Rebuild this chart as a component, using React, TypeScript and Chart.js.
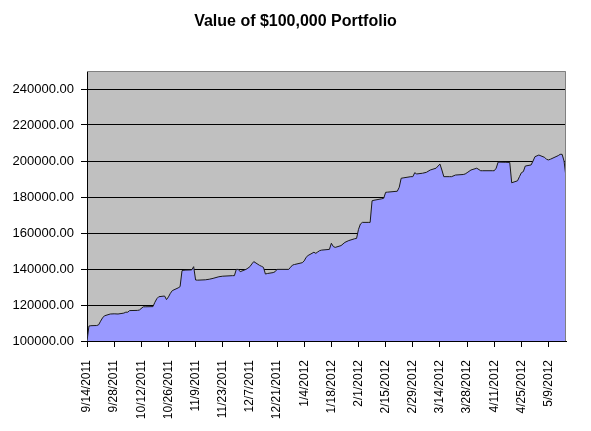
import React, { useEffect, useRef } from "react";
import { Chart, registerables } from "chart.js";

Chart.register(...registerables);

const titleText = "Value of $100,000 Portfolio";
const startDate = "9/14/2011";
const endDate = "5/18/2012";
const tickStepDays = 14;
const yMin = 100000;
const yMax = 250000;
const yTickValues = [100000, 120000, 140000, 160000, 180000, 200000, 220000, 240000];

const dates = [
  "9/14/2011", "9/15/2011", "9/16/2011", "9/19/2011", "9/20/2011", "9/21/2011", "9/22/2011", "9/23/2011",
  "9/26/2011", "9/28/2011", "9/30/2011", "10/3/2011", "10/4/2011", "10/5/2011", "10/6/2011", "10/10/2011",
  "10/11/2011", "10/13/2011", "10/14/2011", "10/18/2011", "10/19/2011", "10/20/2011", "10/21/2011", "10/24/2011",
  "10/25/2011", "10/26/2011", "10/27/2011", "10/28/2011", "10/31/2011", "11/1/2011", "11/2/2011", "11/3/2011",
  "11/4/2011", "11/7/2011", "11/8/2011", "11/9/2011", "11/10/2011", "11/14/2011", "11/16/2011", "11/18/2011",
  "11/21/2011", "11/23/2011", "11/28/2011", "11/29/2011", "11/30/2011", "12/1/2011", "12/2/2011", "12/5/2011",
  "12/6/2011", "12/7/2011", "12/8/2011", "12/9/2011", "12/12/2011", "12/13/2011", "12/14/2011", "12/15/2011",
  "12/16/2011", "12/19/2011", "12/20/2011", "12/21/2011", "12/22/2011", "12/27/2011", "12/28/2011", "12/29/2011",
  "12/30/2011", "1/3/2012", "1/4/2012", "1/5/2012", "1/6/2012", "1/9/2012", "1/10/2012", "1/11/2012",
  "1/12/2012", "1/13/2012", "1/17/2012", "1/18/2012", "1/19/2012", "1/20/2012", "1/23/2012", "1/25/2012",
  "1/27/2012", "1/30/2012", "1/31/2012", "2/1/2012", "2/2/2012", "2/3/2012", "2/6/2012", "2/7/2012",
  "2/8/2012", "2/9/2012", "2/13/2012", "2/14/2012", "2/15/2012", "2/16/2012", "2/21/2012", "2/22/2012",
  "2/23/2012", "2/24/2012", "2/28/2012", "2/29/2012", "3/1/2012", "3/2/2012", "3/5/2012", "3/7/2012",
  "3/9/2012", "3/12/2012", "3/14/2012", "3/15/2012", "3/16/2012", "3/19/2012", "3/20/2012", "3/22/2012",
  "3/26/2012", "3/27/2012", "3/28/2012", "3/30/2012", "4/2/2012", "4/4/2012", "4/5/2012", "4/10/2012",
  "4/11/2012", "4/12/2012", "4/13/2012", "4/16/2012", "4/17/2012", "4/19/2012", "4/20/2012", "4/23/2012",
  "4/24/2012", "4/25/2012", "4/26/2012", "4/27/2012", "4/30/2012", "5/1/2012", "5/2/2012", "5/4/2012",
  "5/7/2012", "5/8/2012", "5/9/2012", "5/10/2012", "5/14/2012", "5/15/2012", "5/16/2012", "5/17/2012",
  "5/18/2012",
];

const values = [
  100000, 108300, 108500, 108600, 109000, 111000, 112800, 114000,
  115000, 115100, 115000, 115500, 116000, 116000, 116900, 117000,
  117200, 119000, 119000, 119100, 121500, 123500, 124600, 125000,
  123000, 124500, 126500, 128000, 129500, 130200, 139100, 139300,
  139400, 139500, 141300, 133900, 133800, 134000, 134300, 134800,
  135700, 136000, 136300, 136300, 139800, 139800, 138500, 139800,
  140500, 141300, 142800, 144100, 142000, 141500, 140900, 137200,
  137500, 138000, 138500, 139800, 139800, 139800, 141000, 142200,
  142500, 143500, 144500, 146500, 147500, 149300, 148700, 149500,
  150200, 150500, 150900, 154300, 152500, 152000, 153000, 154800,
  155800, 156800, 157000, 162000, 165000, 165900, 165900, 165900,
  177900, 178200, 179000, 179300, 182600, 182700, 183200, 185400,
  190400, 190600, 191300, 191300, 193500, 192800, 193200, 193700,
  195000, 196000, 198300, 195000, 191300, 191300, 191300, 192200,
  192500, 192800, 193500, 195000, 196000, 194600, 194600, 194600,
  194600, 196000, 199400, 199300, 199300, 199200, 187900, 189000,
  191300, 193500, 194100, 197200, 197800, 200000, 202400, 203300,
  202000, 200900, 200600, 201000, 203000, 203700, 203700, 200000,
  191000,
];

const DAY = 86400000;
function toUTC(s: string): number {
  const [m, d, y] = s.split("/").map(Number);
  return Date.UTC(y, m - 1, d);
}
const startMs = toUTC(startDate);
function dayOffset(s: string): number {
  return Math.round((toUTC(s) - startMs) / DAY);
}
function offsetLabel(v: number): string {
  const dt = new Date(startMs + v * DAY);
  return `${dt.getUTCMonth() + 1}/${dt.getUTCDate()}/${dt.getUTCFullYear()}`;
}

const FONT = '"Liberation Sans", Arial, sans-serif';

const plotBg = {
  id: "plotBg",
  beforeDraw(chart: any) {
    const { ctx, chartArea } = chart;
    ctx.save();
    ctx.fillStyle = "#C0C0C0";
    ctx.fillRect(chartArea.left, chartArea.top, chartArea.right - chartArea.left, chartArea.bottom - chartArea.top);
    ctx.restore();
  },
  afterDraw(chart: any) {
    const { ctx, chartArea } = chart;
    ctx.save();
    ctx.strokeStyle = "#808080";
    ctx.lineWidth = 1;
    ctx.beginPath();
    ctx.moveTo(chartArea.left, chartArea.top + 0.5);
    ctx.lineTo(chartArea.right - 0.5, chartArea.top + 0.5);
    ctx.lineTo(chartArea.right - 0.5, chartArea.bottom);
    ctx.stroke();
    // chart title, centred on the whole canvas
    ctx.fillStyle = "#000";
    ctx.font = `bold 16px ${FONT}`;
    ctx.textAlign = "center";
    ctx.textBaseline = "middle";
    ctx.fillText(titleText, chart.width / 2, 22);
    ctx.restore();
  },
};

export default function App() {
  const ref = useRef<HTMLCanvasElement | null>(null);
  useEffect(() => {
    document.body.style.margin = "0";
    const points = dates.map((d, i) => ({ x: dayOffset(d), y: values[i] }));
    const chart = new Chart(ref.current as HTMLCanvasElement, {
      type: "line",
      data: {
        datasets: [
          {
            data: points,
            fill: "start",
            backgroundColor: "#9999FF",
            borderColor: "#1a1a1a",
            borderWidth: 1,
            pointRadius: 0,
            tension: 0,
          },
        ],
      },
      options: {
        animation: false,
        responsive: false,
        maintainAspectRatio: false,
        layout: { padding: { left: 0, right: 25, top: 71, bottom: 0 } },
        plugins: {
          legend: { display: false },
          tooltip: { enabled: false },
          title: { display: false },
        },
        scales: {
          x: {
            type: "linear",
            min: 0,
            max: dayOffset(endDate),
            ticks: {
              stepSize: tickStepDays,
              includeBounds: false,
              autoSkip: false,
              maxRotation: 90,
              minRotation: 90,
              padding: 13,
              color: "#000",
              font: { family: FONT, size: 12 },
              callback: (v: any) => offsetLabel(Number(v)),
            },
            grid: { drawOnChartArea: false, drawTicks: true, tickLength: 6, color: "#000" },
            border: { display: true, color: "#000", width: 1 },
            afterFit: (scale: any) => {
              scale.height = 90;
            },
          },
          y: {
            min: yMin,
            max: yMax,
            afterBuildTicks: (scale: any) => {
              scale.ticks = yTickValues.map((v) => ({ value: v }));
            },
            ticks: {
              padding: 7,
              color: "#000",
              font: { family: FONT, size: 13 },
              callback: (v: any) => Number(v).toFixed(2),
            },
            grid: { color: "#000", lineWidth: 1, tickLength: 6 },
            border: { display: true, color: "#000", width: 1 },
            afterFit: (scale: any) => {
              scale.width = 87;
            },
          },
        },
      },
      plugins: [plotBg],
    });
    return () => chart.destroy();
  }, []);
  return (
    <div style={{ width: 591, height: 431, background: "#fff" }}>
      <canvas ref={ref} width={591} height={431} style={{ display: "block" }} />
    </div>
  );
}
